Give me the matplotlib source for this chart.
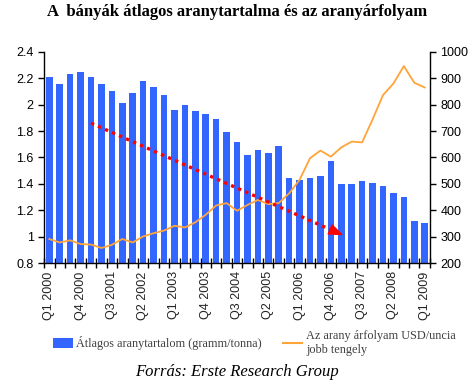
import matplotlib
matplotlib.use("Agg")
import matplotlib.pyplot as plt
import numpy as np
from matplotlib.patches import Patch
from matplotlib.lines import Line2D

quarters = [f"Q{q} {y}" for y in range(2000, 2010) for q in (1, 2, 3, 4)][:37]
gold_content = [2.21, 2.16, 2.23, 2.245, 2.21, 2.16, 2.10, 2.01, 2.09, 2.18,
                2.13, 2.07, 1.96, 2.00, 1.95, 1.93, 1.89, 1.79, 1.72, 1.616,
                1.657, 1.632, 1.69, 1.445, 1.43, 1.445, 1.46, 1.576, 1.397, 1.397,
                1.42, 1.405, 1.382, 1.327, 1.30, 1.12, 1.105]
gold_price = [291, 278, 286, 272, 270, 257, 269, 291, 278, 301,
              313, 323, 341, 335, 354, 383, 418, 427, 398, 420,
              439, 423, 427, 464, 515, 597, 626, 603, 638, 660,
              657, 744, 836, 880, 946, 883, 865]
left_ticks = [0.8, 1.0, 1.2, 1.4, 1.6, 1.8, 2.0, 2.2, 2.4]
left_ticklabels = ["0.8", "1", "1.2", "1.4", "1.6", "1.8", "2", "2.2", "2.4"]
right_ticks = [200, 300, 400, 500, 600, 700, 800, 900, 1000]
trend_start = (4, 1.86)
trend_end = (28.2, 1.01)

title = "A  bányák átlagos aranytartalma és az aranyárfolyam"
bar_label = "Átlagos aranytartalom (gramm/tonna)"
line_label = "Az arany árfolyam USD/uncia\njobb tengely"
source = "Forrás: Erste Research Group"

BLUE = "#3366FF"
ORANGE = "#FFA438"

plt.rcParams['font.family'] = ['Liberation Sans', 'DejaVu Sans']

fig = plt.figure(figsize=(4.74, 3.84), dpi=100)
ax = fig.add_axes([0.093, 0.315, 0.814, 0.55])
x = np.arange(len(quarters))
ax.bar(x, gold_content, width=0.62, color=BLUE, zorder=2)
ax.set_xlim(-0.5, len(quarters) - 0.5)
ax.set_ylim(0.8, 2.4)
ax.set_yticks(left_ticks)
ax.set_yticklabels(left_ticklabels)

ax2 = ax.twinx()
ax2.plot(x, gold_price, color=ORANGE, lw=1.3, zorder=3)
ax2.set_ylim(200, 1000)
ax2.set_yticks(right_ticks)

for a in (ax, ax2):
    a.spines['top'].set_visible(False)
    for s in a.spines.values():
        s.set_linewidth(1.0)
        s.set_color('black')
ax.spines['right'].set_visible(False)
ax2.spines['left'].set_visible(False)
ax2.spines['bottom'].set_visible(False)

ax.tick_params(axis='y', direction='out', length=4, width=1, labelsize=9, colors='black')
ax2.tick_params(axis='y', direction='out', length=4, width=1, labelsize=9, colors='black')

lab_idx = list(range(0, len(quarters), 3))
ax.set_xticks(lab_idx)
ax.set_xticklabels([quarters[i] for i in lab_idx], rotation=90, fontsize=9,
                   color='#222222')
ax.set_xticks(np.arange(-0.5, len(quarters), 1.0), minor=True)
ax.tick_params(axis='x', which='major', length=0, pad=6)
ax.tick_params(axis='x', which='minor', direction='inout', length=7, width=1)

# dotted red trend arrow (drawn in left-axis data coordinates, above the line)
slope = (trend_end[1] - trend_start[1]) / (trend_end[0] - trend_start[0])
head_start = (trend_end[0] - 1.3, trend_end[1] - 1.3 * slope)
ax2.plot([trend_start[0], head_start[0]], [trend_start[1], head_start[1]],
         transform=ax.transData, color='red', lw=2.4,
         linestyle=(0, (1, 1.3)), dash_capstyle='butt', zorder=5)
ax2.annotate('', xy=trend_end, xytext=head_start, xycoords=ax.transData,
             textcoords=ax.transData,
             arrowprops=dict(arrowstyle='-|>,head_length=0.9,head_width=0.35',
                             color='red', lw=1.0, shrinkA=0, shrinkB=0),
             zorder=5)

fig.text(0.5, 0.968, title, ha='center', va='center', fontsize=12,
         fontweight='bold', family='Liberation Serif')

handles = [Patch(facecolor=BLUE, edgecolor='none'),
           Line2D([0], [0], color=ORANGE, lw=1.5)]
fig.legend(handles, [bar_label, line_label], loc='center',
           bbox_to_anchor=(0.537, 0.107), ncol=2, frameon=False,
           prop={'family': 'Liberation Serif', 'size': 8.8},
           labelcolor='#404040', handlelength=1.6, handleheight=0.8,
           columnspacing=1.7, handletextpad=0.3)

fig.text(0.5, 0.03, source, ha='center', va='center', fontsize=12,
         style='italic', family='Liberation Serif')

fig.savefig("out.png", dpi=100)
